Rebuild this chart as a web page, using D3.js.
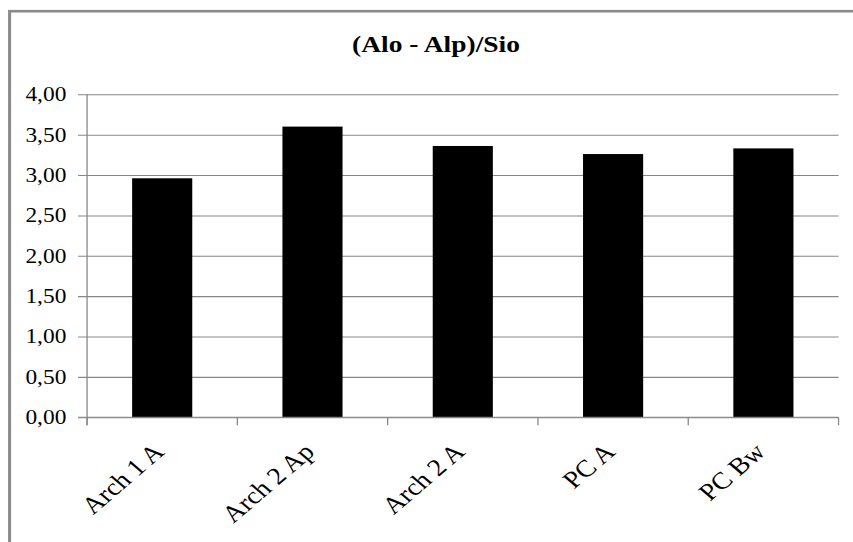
<!DOCTYPE html>
<html>
<head>
<meta charset="utf-8">
<script src="https://cdn.jsdelivr.net/npm/d3@7"></script>
<style>
  html, body { margin: 0; padding: 0; background: #fff; }
  svg { display: block; }
  text { font-family: "Liberation Serif", "Times New Roman", serif; fill: #000; }
</style>
</head>
<body>
<svg id="chart" width="853" height="542"></svg>
<script>
// Chart data
const categories = ["Arch 1 A", "Arch 2 Ap", "Arch 2 A", "PC A", "PC Bw"];
const values = [2.96, 3.60, 3.36, 3.26, 3.33];
const yTicks = [0, 0.5, 1, 1.5, 2, 2.5, 3, 3.5, 4];
const title = "(Alo - Alp)/Sio";

const W = 853, H = 542;
const sx = 1.17;              // horizontal stretch of the whole drawing
const innerW = W / sx;

const margin = { left: 74.4, right: innerW - 716.7, top: 94.3, bottom: H - 417.3 };
const plotW = innerW - margin.left - margin.right;
const plotH = H - margin.top - margin.bottom;

const svg = d3.select("#chart");
const root = svg.append("g").attr("transform", `scale(${sx},1)`);

// outer chart border (left and top edges visible)
root.append("rect")
  .attr("x", 8.2).attr("y", 11.2)
  .attr("width", innerW + 20).attr("height", H + 20)
  .attr("fill", "none")
  .attr("stroke", "#8a8a8a")
  .attr("stroke-width", 2.6);

// title
root.append("text")
  .attr("x", 436 / sx).attr("y", 52)
  .attr("text-anchor", "middle")
  .attr("font-size", 23.5)
  .attr("font-weight", "bold")
  .text(title);

const g = root.append("g").attr("transform", `translate(${margin.left},${margin.top})`);

const x = d3.scaleBand().domain(categories).range([0, plotW])
  .paddingInner(0.6).paddingOuter(0.3);
const y = d3.scaleLinear().domain([0, 4]).range([plotH, 0]);

const locale = d3.formatLocale({ decimal: ",", thousands: ".", grouping: [3], currency: ["", ""] });
const fmt = locale.format(".2f");

const tickLen = 7.7;

// horizontal gridlines + y ticks
const yAxis = d3.axisLeft(y)
  .tickValues(yTicks)
  .tickSize(-(plotW + tickLen))
  .tickPadding(10)
  .tickFormat(fmt);

const yg = g.append("g").attr("transform", `translate(${-tickLen},0)`).call(yAxis);
yg.select(".domain").remove();
yg.selectAll(".tick line").attr("stroke", "#878787").attr("stroke-width", 1.1);
yg.selectAll(".tick text")
  .attr("font-size", 20)
  .attr("font-family", "'Liberation Serif', 'Times New Roman', serif")
  .attr("fill", "#000");

// bars
g.selectAll("rect.bar")
  .data(values)
  .join("rect")
  .attr("class", "bar")
  .attr("x", (d, i) => x(categories[i]))
  .attr("y", d => y(d))
  .attr("width", x.bandwidth())
  .attr("height", d => plotH - y(d))
  .attr("fill", "#000");

// y axis line
g.append("line")
  .attr("x1", 0).attr("x2", 0)
  .attr("y1", 0).attr("y2", plotH + 8)
  .attr("stroke", "#878787").attr("stroke-width", 1.1);

// x axis line
g.append("line")
  .attr("x1", -tickLen).attr("x2", plotW)
  .attr("y1", plotH).attr("y2", plotH)
  .attr("stroke", "#878787").attr("stroke-width", 1.1);

// x tick marks at category boundaries
const step = x.step();
const bounds = d3.range(categories.length + 1).map(i => i * step);
g.selectAll("line.xtick")
  .data(bounds)
  .join("line")
  .attr("class", "xtick")
  .attr("x1", d => d).attr("x2", d => d)
  .attr("y1", plotH).attr("y2", plotH + 8)
  .attr("stroke", "#878787").attr("stroke-width", 1.1);

// rotated category labels
g.selectAll("text.xlabel")
  .data(categories)
  .join("text")
  .attr("class", "xlabel")
  .attr("text-anchor", "end")
  .attr("font-size", 24)
  .attr("transform", d => `translate(${x(d) + x.bandwidth() / 2 + 3},${plotH + 36}) rotate(-45)`)
  .text(d => d);
</script>
</body>
</html>
